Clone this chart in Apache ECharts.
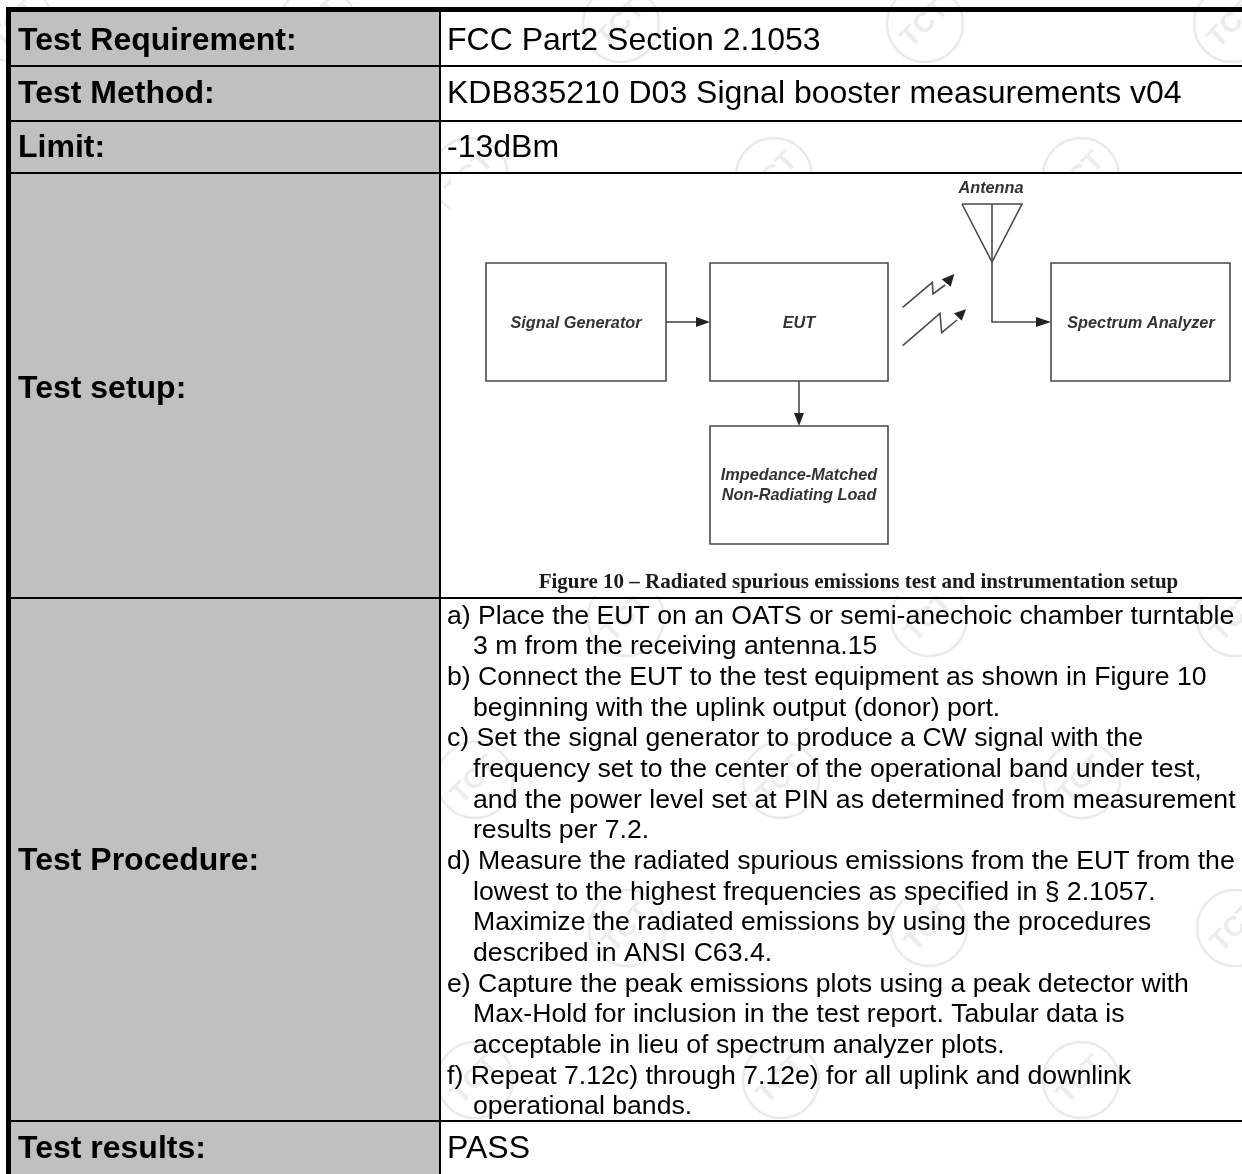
<!DOCTYPE html>
<html><head><meta charset="utf-8">
<style>html,body{margin:0;padding:0;background:#fff}#c{width:1242px;height:1174px}</style>
<script src="https://cdn.jsdelivr.net/npm/echarts@6/dist/echarts.min.js"></script>
</head><body><div id="c"></div>
<script>
const rowLabels = ['Test Requirement:','Test Method:','Limit:','Test setup:','Test Procedure:','Test results:'];
const rowValues = ['FCC Part2 Section 2.1053','KDB835210 D03 Signal booster measurements v04','-13dBm','PASS'];
const procedureLines = [
 'a) Place the EUT on an OATS or semi-anechoic chamber turntable',
 '   3 m from the receiving antenna.15',
 'b) Connect the EUT to the test equipment as shown in Figure 10',
 '   beginning with the uplink output (donor) port.',
 'c) Set the signal generator to produce a CW signal with the',
 '   frequency set to the center of the operational band under test,',
 '   and the power level set at PIN as determined from measurement',
 '   results per 7.2.',
 'd) Measure the radiated spurious emissions from the EUT from the',
 '   lowest to the highest frequencies as specified in § 2.1057.',
 '   Maximize the radiated emissions by using the procedures',
 '   described in ANSI C63.4.',
 'e) Capture the peak emissions plots using a peak detector with',
 '   Max-Hold for inclusion in the test report. Tabular data is',
 '   acceptable in lieu of spectrum analyzer plots.',
 'f) Repeat 7.12c) through 7.12e) for all uplink and downlink',
 '   operational bands.'
];
const diagramLabels = ['Signal Generator','EUT','Spectrum Analyzer','Impedance-Matched\nNon-Radiating Load','Antenna'];
const figureCaption = 'Figure 10 \u2013 Radiated spurious emissions test and instrumentation setup';
const watermarkText = 'TCT';

const F = '"Liberation Sans", Arial, sans-serif';
const g = [];
const rect = (x,y,w,h,fill,extra) => g.push(Object.assign({type:'rect',shape:{x,y,width:w,height:h},style:{fill}},extra||{}));
const line = (pts,w,c) => g.push({type:'polyline',shape:{points:pts},style:{fill:'none',stroke:c||'#4a4a4a',lineWidth:w||1.6}});
const head = (pts,c) => g.push({type:'polygon',shape:{points:pts},style:{fill:c||'#222'}});
const text = (t,x,y,font,o) => g.push(Object.assign({type:'text',x,y,style:Object.assign({text:t,font,fill:'#000',textVerticalAlign:'middle',textAlign:'left'},o&&o.style||{})},o&&o.el||{}));

// watermarks
const wm = [[15,24],[318,24],[621,24],[925,24],[1232,24],[774,176],[1081,176],[470,176],[1240,340],
 [626,618],[929,618],[1235,618],[475,780],[781,780],[1082,780],[627,928],[929,928],[1235,928],[475,1080],[781,1080],[1081,1080]];
wm.forEach(([x,y])=>{
  g.push({type:'circle',shape:{cx:x,cy:y,r:38},style:{fill:'none',stroke:'#eaeaea',lineWidth:2.5}});
  g.push({type:'text',x,y,rotation:Math.PI/4,
    style:{text:watermarkText,font:'bold 28px '+F,fill:'#ececec',textAlign:'center',textVerticalAlign:'middle'}});
});

// cell backgrounds
rect(11,12,428,1162,'#c0c0c0');
rect(451,174,791,422,'#ffffff');

// borders
rect(6,7,1236,5,'#000');
rect(6,7,5,1167,'#000');
rect(439,12,2,1162,'#000');
[65,120,172,597,1120].forEach(y=>rect(11,y,1231,2,'#000'));

// left labels
const labelY=[40,93,147,388,860,1148];
rowLabels.forEach((t,i)=>text(t,18,labelY[i]+1,'bold 32px '+F));
// right values
[[0,40],[1,93],[2,147],[3,1148]].forEach(([i,y])=>text(rowValues[i],447,y+1,'32px '+F));

// procedure
procedureLines.forEach((t,i)=>{
  const y=616.5+i*30.65, indented=t.startsWith('   ');
  text(t.trim(),indented?473:447,y,'26.65px '+F);
});

// diagram
const box=(x,y,w,h)=>g.push({type:'rect',shape:{x,y,width:w,height:h},style:{fill:'#fff',stroke:'#4a4a4a',lineWidth:1.6}});
box(486,263,180,118); box(710,263,178,118); box(1051,263,179,118); box(710,426,178,118);
const it='italic bold 16.3px '+F;
const ctr={textAlign:'center',fill:'#333'};
text(diagramLabels[0],576,323.5,it,{style:ctr});
text(diagramLabels[1],799,323.5,it,{style:ctr});
text(diagramLabels[2],1141,323.5,it,{style:ctr});
text(diagramLabels[3],799,486,it,{style:Object.assign({lineHeight:20},ctr)});
text(diagramLabels[4],991,189,it,{style:ctr});
line([[666,322],[698,322]]); head([[696,317],[710,322],[696,327]]);
line([[799,381],[799,415]]); head([[794,413],[799,426],[804,413]]);
line([[962,204],[1022,204],[992,262],[962,204]]);
line([[992,204],[992,322],[1040,322]]); head([[1036,317],[1051,322],[1036,327]]);
line([[902.7,307.3],[932.3,282.3],[933,294],[945,285]]); head([[941.7,279.3],[954.3,274],[950.7,286.7]]);
line([[902.7,345.7],[940,313.3],[941.7,332.7],[957,320]]); head([[954,313.3],[966,309.3],[961.7,320.7]]);
text(figureCaption,858.5,583,'bold 21px "Liberation Serif", "Times New Roman", serif',{style:{textAlign:'center',fill:'#1a1a1a'}});

const chart=echarts.init(document.getElementById('c'),null,{renderer:'canvas'});
chart.setOption({animation:false,backgroundColor:'#fff',graphic:{elements:g}});
</script></body></html>
